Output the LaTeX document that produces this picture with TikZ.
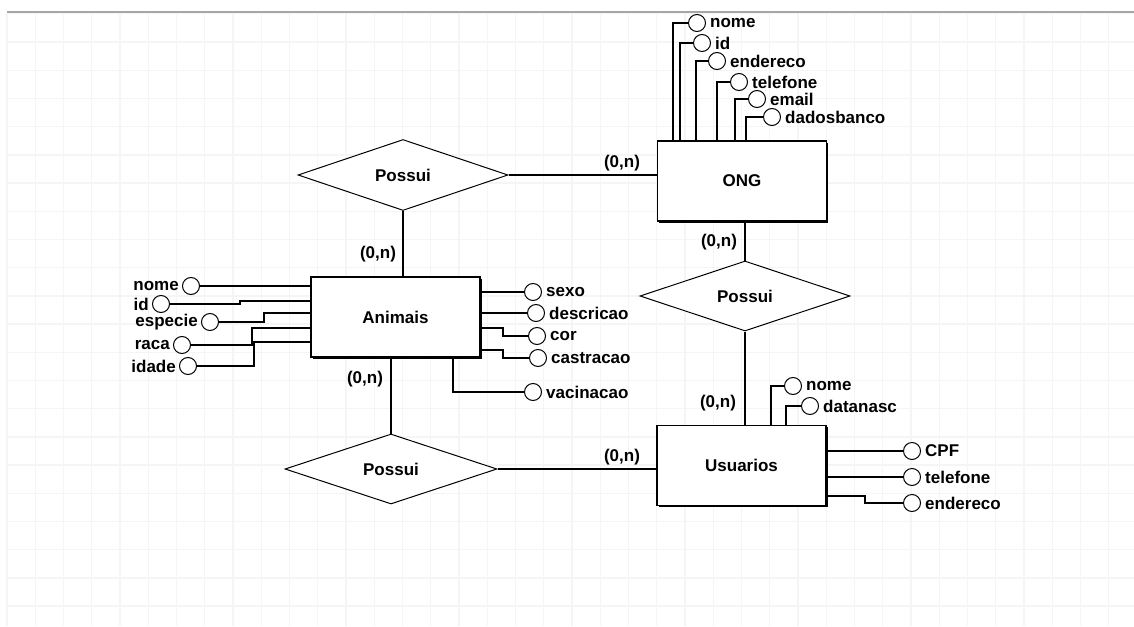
\documentclass[tikz,border=0pt]{standalone}
\usepackage{fontspec}
\setmainfont{Liberation Sans}
\usetikzlibrary{positioning, shapes.geometric, shadows}

\begin{document}
\begin{tikzpicture}[x=1pt, y=-1pt,
    % Style for the entity boxes (with the dark shadow on the right and bottom)
    entity/.style={
        draw, fill=white, line width=1.3pt,
        minimum width=169pt, minimum height=80pt, inner sep=0pt,
        font=\bfseries\fontsize{17}{20}\selectfont,
        drop shadow={shadow xshift=1.6pt, shadow yshift=-1.6pt, opacity=1, fill=black}
    },
    % Style for the relationship diamonds
    relation/.style={
        diamond, draw, fill=white, line width=1pt, inner sep=0pt,
        minimum width=210pt, minimum height=71pt,
        font=\bfseries\fontsize{17}{20}\selectfont
    },
    attr/.style={circle, draw, fill=white, line width=1pt, minimum size=17pt, inner sep=0pt},
    atxt/.style={inner sep=1pt, font=\bfseries\fontsize{17}{20}\selectfont},
    card/.style={inner sep=0pt, font=\bfseries\fontsize{17}{20}\selectfont},
    conn/.style={line width=1.2pt},
    gridline/.style={black!4, line width=1.4pt}
]
\useasboundingbox (0,0) rectangle (1134,626);

% 1. Background grid and the grey top line
\foreach \i in {0,...,39} {
    \draw[gridline] ({7+28.25*\i},13) -- ({7+28.25*\i},626);
}
\foreach \j in {0,...,21} {
    \draw[gridline] (7,{13.8+28.2*\j}) -- (1134,{13.8+28.2*\j});
}
\draw[black!35, line width=2pt] (7,12) -- (1134,12);

% 2. Entities
\node[entity] (ong)      at (742,181)   {ONG};
\node[entity] (animais)  at (395.5,317) {Animais};
\node[entity] (usuarios) at (741.5,465.5) {Usuarios};

% 3. Relationships and their connectors
\node[relation] (rel1) at (403,175) {Possui};
\node[relation, minimum height=70pt] (rel2) at (745,296) {Possui};
\node[relation, minimum width=212pt, minimum height=70pt] (rel3) at (391,469) {Possui};

\draw[conn] (rel1.south) -- (rel1.south |- animais.north);
\draw[conn] (rel1.east) -- (rel1.east -| ong.west);
\draw[conn] (rel2.north |- ong.south) -- (rel2.north);
\draw[conn] (rel2.south) -- (rel2.south |- usuarios.north);
\draw[conn] (rel3.north |- animais.south) -- (rel3.north);
\draw[conn] (rel3.east) -- (rel3.east -| usuarios.west);

% Cardinalities
\node[card] at (622,163) {(0,n)};
\node[card] at (378,254) {(0,n)};
\node[card] at (719,242) {(0,n)};
\node[card] at (718,403) {(0,n)};
\node[card] at (622,457) {(0,n)};
\node[card] at (365,379) {(0,n)};

% 4. Attributes of ONG (on top of the box)
\foreach \nm/\cx/\cy/\vx in {nome/697/23/673, id/702/43/680, endereco/717/61/696,
                             telefone/739/82/717, email/757/99/735, dadosbanco/772/117/746} {
    \node[attr] (o-\nm) at (\cx,\cy) {};
    \node[atxt, right=3pt of o-\nm] {\nm};
    \draw[conn] (ong.north -| \vx,0) |- (o-\nm);
}

% 5. Attributes of Animais
% left side: circle, bend x, y where the line meets the box
\foreach \nm/\cx/\cy/\bx/\by in {nome/191/286/250/286, id/161/304/240/301, especie/210/322/264/313,
                                 raca/182/345/252/328, idade/188/366/254/342} {
    \node[attr] (al-\nm) at (\cx,\cy) {};
    \node[atxt, left=2pt of al-\nm] {\nm};
    \draw[conn] (al-\nm) -- (\bx,\cy) |- (animais.west |- 0,\by);
}
% right side
\foreach \nm/\cx/\cy/\bx/\by in {sexo/533/292/503/292, descricao/536/313/503/313,
                                 cor/537/336/503/328, castracao/538/358/503/350} {
    \node[attr] (ar-\nm) at (\cx,\cy) {};
    \node[atxt, right=3pt of ar-\nm] {\nm};
    \draw[conn] (animais.east |- 0,\by) -- (\bx,\by) |- (ar-\nm);
}
\node[attr] (ar-vacinacao) at (533,392) {};
\node[atxt, right=3pt of ar-vacinacao] {vacinacao};
\draw[conn] (453,0 |- animais.south) |- (ar-vacinacao);

% 6. Attributes of Usuarios
\foreach \nm/\cx/\cy/\vx in {nome/793/386/771, datanasc/810/406/786} {
    \node[attr] (ut-\nm) at (\cx,\cy) {};
    \node[atxt, right=3pt of ut-\nm] {\nm};
    \draw[conn] (usuarios.north -| \vx,0) |- (ut-\nm);
}
\foreach \nm/\cx/\cy/\bx/\by in {CPF/912/451/865/451, telefone/912/477/865/477,
                                 endereco/912/503/865/496} {
    \node[attr] (ur-\nm) at (\cx,\cy) {};
    \node[atxt, right=3pt of ur-\nm] {\nm};
    \draw[conn] (usuarios.east |- 0,\by) -- (\bx,\by) |- (ur-\nm);
}

\end{tikzpicture}
\end{document}
